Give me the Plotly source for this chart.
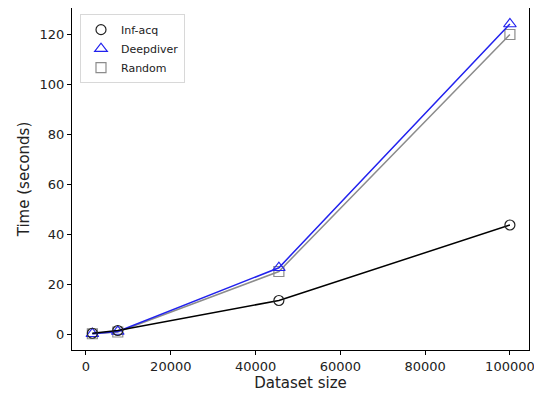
import plotly.graph_objects as go

sizes = [1500, 7500, 45500, 100000]
inf_acq = [0.3, 1.4, 13.4, 43.6]
deepdiver = [0.1, 1.0, 26.5, 124.0]
random_ = [0.1, 0.8, 25.0, 119.8]

x_ticks = [0, 20000, 40000, 60000, 80000, 100000]
y_ticks = [0, 20, 40, 60, 80, 100, 120]

styles = {
    "Inf-acq": dict(color="black", mcolor="#222222", symbol="circle-open", size=10),
    "Deepdiver": dict(color="#2222ee", mcolor="#2222ee", symbol="triangle-up-open", size=11),
    "Random": dict(color="#8c8c8c", mcolor="#8c8c8c", symbol="square-open", size=10),
}
series = [("Random", random_), ("Deepdiver", deepdiver), ("Inf-acq", inf_acq)]

fig = go.Figure()
for name, vals in series:
    s = styles[name]
    fig.add_trace(go.Scatter(x=sizes, y=vals, name=name, mode="lines+markers", showlegend=False,
                             line=dict(color=s["color"], width=1.5),
                             marker=dict(symbol=s["symbol"], size=s["size"], color=s["mcolor"], line=dict(width=1.2))))
for name in ["Inf-acq", "Deepdiver", "Random"]:
    s = styles[name]
    fig.add_trace(go.Scatter(x=[None], y=[None], name=name, mode="markers", showlegend=True,
                             marker=dict(symbol=s["symbol"], size=s["size"], color=s["mcolor"], line=dict(width=1.2))))

fig.update_layout(
    width=534, height=388,
    margin=dict(l=64, r=13, t=0, b=46),
    paper_bgcolor="white", plot_bgcolor="white",
    font=dict(family="DejaVu Sans", color="#222222"),
    showlegend=True,
    legend=dict(x=0.0175, y=0.982, xanchor="left", yanchor="top",
                bgcolor="white", bordercolor="#d8d8d8", borderwidth=1,
                font=dict(size=11), itemwidth=30, tracegroupgap=0),
)
fig.update_xaxes(range=[-3300, 104500], tickvals=x_ticks, ticktext=[str(v) for v in x_ticks],
                 automargin=False,
                 showgrid=False, zeroline=False, showline=True, linecolor="black", linewidth=1,
                 mirror=True, ticks="outside", ticklen=4, tickcolor="black",
                 tickfont=dict(size=13), title=dict(text="Dataset size", font=dict(size=15), standoff=4))
fig.update_yaxes(range=[-6.4, 130.4], tickvals=y_ticks, ticktext=[str(v) for v in y_ticks],
                 automargin=False,
                 showgrid=False, zeroline=False, showline=True, linecolor="black", linewidth=1,
                 mirror=True, ticks="outside", ticklen=4, tickcolor="black",
                 tickfont=dict(size=13), title=dict(text="Time (seconds)", font=dict(size=15), standoff=6))

fig.write_html("out.html")
